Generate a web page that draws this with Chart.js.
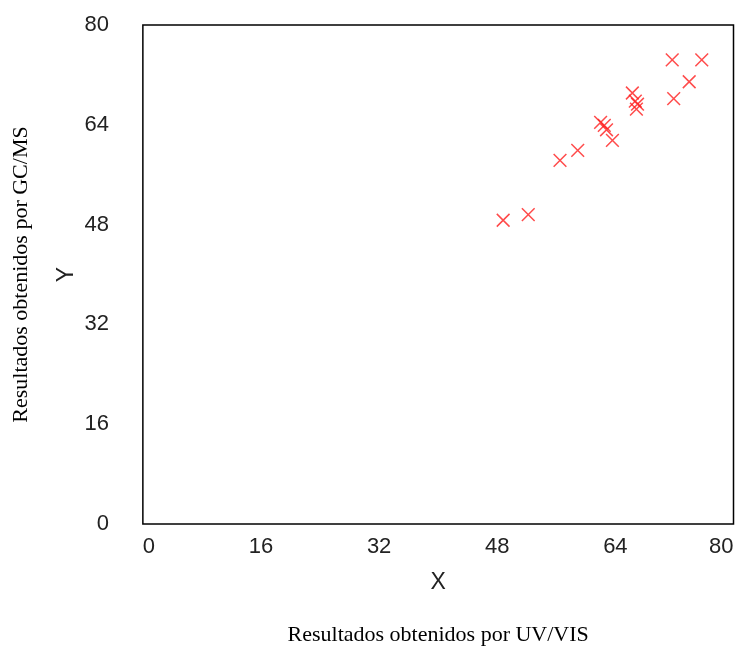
<!DOCTYPE html>
<html>
<head>
<meta charset="utf-8">
<script src="https://cdn.jsdelivr.net/npm/chart.js@4"></script>
<style>
  html, body { margin: 0; padding: 0; background: #fff; overflow: hidden; }
  #wrap { width: 744px; height: 646px; }
</style>
</head>
<body>
<div id="wrap"><canvas id="chart"></canvas></div>
<script>
// valores
const xValues = [48.8, 52.2, 56.5, 58.9, 62.0, 62.5, 62.8, 63.6, 66.3, 66.7, 67.0, 66.85, 71.9, 71.7, 75.7, 74.0];
const yValues = [48.7, 49.6, 58.3, 59.9, 64.4, 63.9, 63.2, 61.5, 69.1, 67.8, 67.3, 66.5, 68.2, 74.4, 74.4, 70.9];
const xTicks = [0, 16, 32, 48, 64, 80];
const yTicks = [0, 16, 32, 48, 64, 80];

const points = xValues.map((x, i) => ({ x: x, y: yValues[i] }));

const sans = '"Liberation Sans", Arial, sans-serif';
const serif = '"Liberation Serif", "Times New Roman", serif';

// marco alrededor del area del grafico
const boxPlugin = {
  id: 'box',
  afterDraw(chart) {
    const a = chart.chartArea;
    const ctx = chart.ctx;
    ctx.save();
    ctx.strokeStyle = '#000';
    ctx.lineWidth = 1.5;
    ctx.strokeRect(a.left, a.top, a.right - a.left, a.bottom - a.top);
    ctx.restore();
  }
};

new Chart(document.getElementById('chart'), {
  type: 'scatter',
  data: {
    datasets: [{
      data: points,
      pointStyle: 'crossRot',
      pointRadius: 9,
      pointHoverRadius: 9,
      borderWidth: 1.5,
      borderColor: 'rgba(255, 30, 30, 0.8)',
      backgroundColor: 'rgba(255, 30, 30, 0.8)'
    }]
  },
  options: {
    responsive: true,
    maintainAspectRatio: false,
    animation: false,
    layout: { padding: { top: 25, right: 6, left: 8, bottom: 0 } },
    plugins: {
      legend: { display: false },
      tooltip: { enabled: false },
      title: {
        display: true,
        position: 'bottom',
        fullSize: false,
        text: 'Resultados obtenidos por UV/VIS',
        color: '#000',
        font: { family: serif, size: 22, weight: 'normal', lineHeight: 1.0 },
        padding: { top: 28, bottom: 0 }
      },
      subtitle: {
        display: true,
        position: 'left',
        fullSize: false,
        text: 'Resultados obtenidos por GC/MS',
        color: '#000',
        font: { family: serif, size: 22 },
        padding: { top: 0, bottom: 21 }
      }
    },
    scales: {
      x: {
        type: 'linear',
        min: 0,
        max: 80,
        afterBuildTicks: s => { s.ticks = xTicks.map(v => ({ value: v })); },
        grid: { display: false, drawTicks: true, tickLength: 8 },
        border: { display: false },
        ticks: {
          color: '#222',
          padding: 2,
          align: 'inner',
          font: { family: sans, size: 22 }
        },
        title: {
          display: true,
          text: 'X',
          color: '#222',
          font: { family: sans, size: 23 },
          padding: { top: 6, bottom: 0 }
        }
      },
      y: {
        type: 'linear',
        min: 0,
        max: 80,
        afterBuildTicks: s => { s.ticks = yTicks.map(v => ({ value: v })); },
        grid: { display: false, drawTicks: true, tickLength: 28 },
        border: { display: false },
        ticks: {
          color: '#222',
          padding: 6,
          font: { family: sans, size: 22 }
        },
        title: {
          display: true,
          text: 'Y',
          color: '#222',
          font: { family: sans, size: 23, lineHeight: 1.0 },
          padding: { top: 0, bottom: 0 }
        }
      }
    }
  },
  plugins: [boxPlugin]
});
</script>
</body>
</html>
